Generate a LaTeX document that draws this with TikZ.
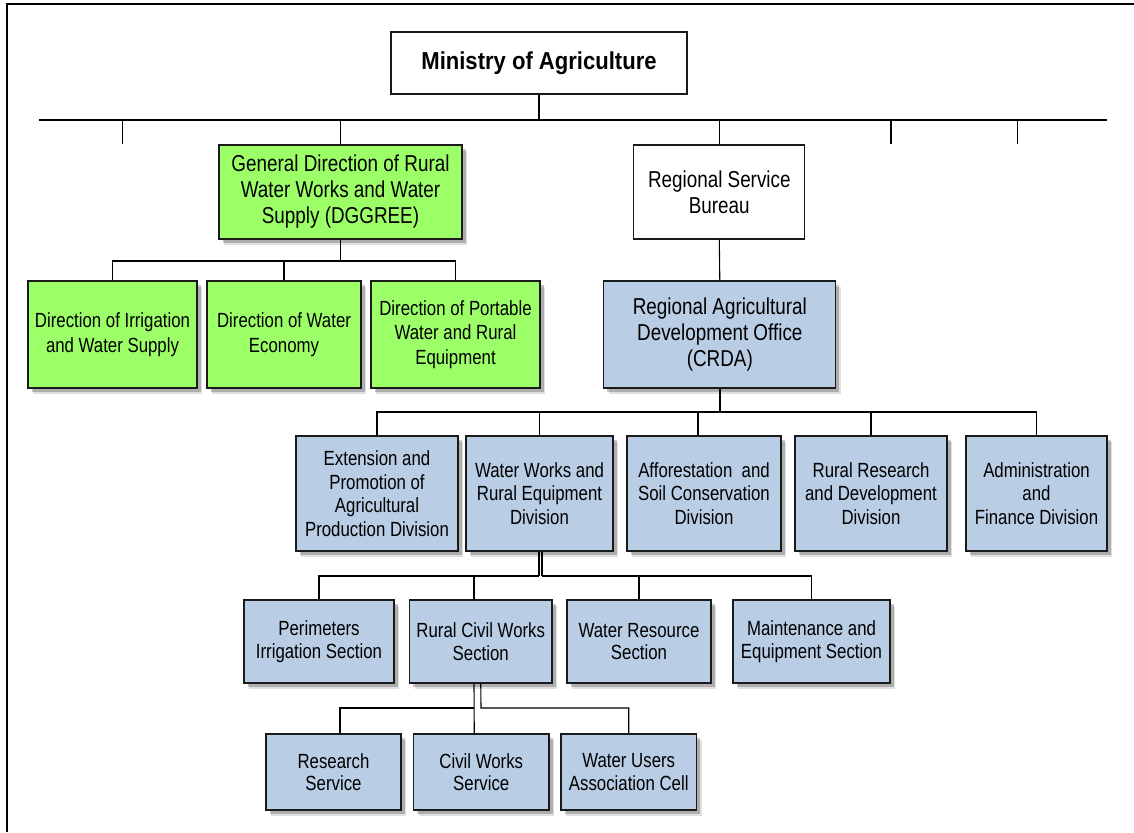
\documentclass[tikz,border=0pt]{standalone}
\usepackage{fontspec}
\setmainfont{Liberation Sans}
\newfontfamily\nar[FakeStretch=0.82]{Liberation Sans}
\newfontfamily\titlefont[FakeStretch=0.9]{Liberation Sans}
\usetikzlibrary{shadows}
\definecolor{gfill}{HTML}{9CFF68}
\definecolor{bfill}{HTML}{B9CDE5}
\definecolor{edge}{HTML}{1A1A1A}
\tikzset{
  box/.style={draw=edge, line width=1.3pt, align=center, inner sep=0pt},
  shadowed/.style={
    drop shadow={shadow xshift=5pt, shadow yshift=-6pt, opacity=0.12, fill=black},
    drop shadow={shadow xshift=3.5pt, shadow yshift=-4pt, opacity=0.22, fill=black}},
  bigtxt/.style={font=\nar\fontsize{23}{26}\selectfont},
  smalltxt/.style={font=\nar\fontsize{20.5}{23.5}\selectfont},
  gbox/.style={box, shadowed, fill=gfill},
  bbox/.style={box, shadowed, fill=bfill},
  conn/.style={draw=black, line width=1.1pt},
  trunk/.style={draw=black, line width=2.2pt},
}
\begin{document}
\begin{tikzpicture}[x=1pt,y=-1pt]
\useasboundingbox (0,0) rectangle (1134,832);
\fill[white] (0,0) rectangle (1134,832);
% frame
\draw[line width=2pt] (7,832) -- (7,4) -- (1134,4);

% top level
\node[box, fill=white, line width=1.1pt, minimum width=296pt, minimum height=62pt,
      font=\titlefont\bfseries\fontsize{24.5}{28}\selectfont] (min) at (539,63) {Ministry of Agriculture};

\coordinate (mL) at (39,120);
\coordinate (mR) at (1107,120);
\draw[conn] (mL) -- (mR);
\draw[trunk] (min.south) -- (min.south |- mL);

\coordinate (t1) at (122.5,120); \coordinate (t1e) at (122.5,144);
\coordinate (t2) at (891,120);   \coordinate (t2e) at (891,144);
\coordinate (t3) at (1017.5,120);\coordinate (t3e) at (1017.5,144);
\draw[conn] (t1) -- (t1e);
\draw[conn] (t2) -- (t2e);
\draw[conn] (t3) -- (t3e);

% second level
\node[gbox, bigtxt, minimum width=243pt, minimum height=94pt] (gd) at (340.5,192)
  {General Direction of Rural\\Water Works and Water\\Supply (DGGREE)};
\node[box, fill=white, bigtxt, minimum width=171pt, minimum height=94pt] (rsb) at (719.3,192)
  {Regional Service\\Bureau};
\draw[conn] (gd.north) -- (gd.north |- mL);
\draw[conn] (rsb.north) -- (rsb.north |- mL);

\node[bbox, bigtxt, minimum width=232pt, minimum height=107pt] (crda) at (719.8,334.5)
  {Regional Agricultural\\Development Office\\(CRDA)};
\draw[conn] (rsb.south) -- (crda.north);

% green directions
\node[gbox, font=\nar\fontsize{20.5}{24.5}\selectfont, minimum width=169pt, minimum height=107pt] (g1) at (112.5,334.5)
  {Direction of Irrigation\\and Water Supply};
\node[gbox, font=\nar\fontsize{20.5}{24.5}\selectfont, minimum width=154pt, minimum height=107pt] (g2) at (284,334.5)
  {Direction of Water\\Economy};
\node[gbox, font=\nar\fontsize{20.5}{24.5}\selectfont, minimum width=169pt, minimum height=107pt] (g3) at (455.5,334.5)
  {Direction of Portable\\Water and Rural\\Equipment};
\coordinate (gb) at (340.5,261);
\draw[trunk, line width=1.8pt] (gd.south) -- (gb);
\draw[conn] (g1.north) |- (gb) -| (g3.north);
\draw[conn] (g2.north) -- (g2.north |- gb);

% divisions
\node[bbox, smalltxt, minimum width=162pt, minimum height=115pt] (d1) at (377,493.5)
  {Extension and\\Promotion of\\Agricultural\\Production Division};
\node[bbox, smalltxt, minimum width=147pt, minimum height=115pt] (d2) at (539.5,493.5)
  {Water Works and\\Rural Equipment\\Division};
\node[bbox, smalltxt, minimum width=154pt, minimum height=115pt] (d3) at (704,493.5)
  {Afforestation\ \ and\\Soil Conservation\\Division};
\node[bbox, smalltxt, minimum width=152pt, minimum height=115pt] (d4) at (871,493.5)
  {Rural Research\\and Development\\Division};
\node[bbox, smalltxt, minimum width=141pt, minimum height=115pt] (d5) at (1036.5,493.5)
  {Administration\\and\\Finance Division};
\coordinate (db) at (719.8,412);
\draw[trunk, line width=1.8pt] (crda.south) -- (db);
\draw[conn] (d1.north) |- (db) -| (d5.north);
\draw[conn] (d2.north) -- (d2.north |- db);
\draw[conn] ([xshift=-6pt]d3.north) -- ([xshift=-6pt]d3.north |- db);
\draw[conn] (d4.north) -- (d4.north |- db);

% sections
\node[bbox, font=\nar\fontsize{20.5}{22.5}\selectfont, minimum width=150pt, minimum height=83pt] (s1) at (319,641.5)
  {Perimeters\\Irrigation Section};
\node[bbox, font=\nar\fontsize{20.5}{22.5}\selectfont, minimum width=142.5pt, minimum height=83pt] (s2) at (480.75,641.5)
  {Rural Civil Works\\Section};
\node[bbox, font=\nar\fontsize{20.5}{22.5}\selectfont, minimum width=144pt, minimum height=83pt] (s3) at (639,641.5)
  {Water Resource\\Section};
\node[bbox, font=\nar\fontsize{20.5}{22.5}\selectfont, minimum width=157pt, minimum height=83pt] (s4) at (811.5,641.5)
  {Maintenance and\\Equipment Section};
\coordinate (wa) at (539,576);
\coordinate (wb) at (542,576);
\draw[conn] ([xshift=-0.5pt]d2.south) -- (wa);
\draw[conn] ([xshift=2.5pt]d2.south) -- (wb);
\draw[conn] (wa) -| (s1.north);
\draw[conn] (wb) -| (s4.north);
\draw[conn] ([xshift=-6.75pt]s2.north) -- ([xshift=-6.75pt]s2.north |- wa);
\draw[conn] (s3.north) -- (s3.north |- wa);

% services
\node[bbox, font=\nar\fontsize{20.5}{22.5}\selectfont, minimum width=135pt, minimum height=76pt] (v1) at (333.5,772)
  {Research\\Service};
\node[bbox, font=\nar\fontsize{20.5}{22.5}\selectfont, minimum width=135.5pt, minimum height=76pt] (v2) at (481.25,772)
  {Civil Works\\Service};
\node[bbox, font=\nar\fontsize{20.5}{22.5}\selectfont, minimum width=135.5pt, minimum height=76pt] (v3) at (628.75,772)
  {Water Users\\Association Cell};
\coordinate (ra) at (474,708);
\coordinate (rb) at (481,708);
\draw[conn] ([xshift=-6.75pt]s2.south) -- ([xshift=-7pt]v2.north);
\draw[conn] (ra) -| ([xshift=6.5pt]v1.north);
\draw[conn] (s2.south) -- (rb) -| (v3.north);
\end{tikzpicture}
\end{document}
